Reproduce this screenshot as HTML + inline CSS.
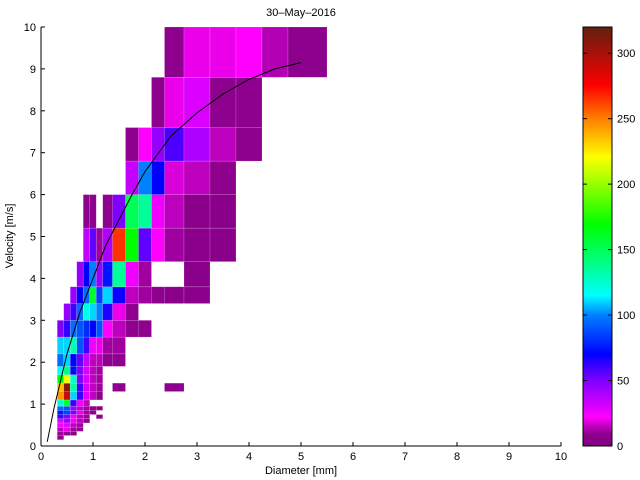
<!DOCTYPE html>
<html><head><meta charset="utf-8"><style>
body{margin:0;background:#fff;}
svg{display:block;font-family:"Liberation Sans",sans-serif;}
</style></head><body>
<svg id="chart" width="640" height="480" viewBox="0 0 640 480">
<defs>
<linearGradient id="cbgrad" x1="0" y1="1" x2="0" y2="0">
<stop offset="0" stop-color="#800080"/>
<stop offset="0.031" stop-color="#910091"/>
<stop offset="0.069" stop-color="#ff00ff"/>
<stop offset="0.156" stop-color="#8000ff"/>
<stop offset="0.219" stop-color="#0000ff"/>
<stop offset="0.3125" stop-color="#0080ff"/>
<stop offset="0.36" stop-color="#00ffff"/>
<stop offset="0.44" stop-color="#00ff80"/>
<stop offset="0.53" stop-color="#00ff00"/>
<stop offset="0.69" stop-color="#ffff00"/>
<stop offset="0.78" stop-color="#ff8000"/>
<stop offset="0.86" stop-color="#ff0000"/>
<stop offset="1" stop-color="#602010"/>
</linearGradient>
</defs>
<g id="cells"></g>
<g id="fit"></g>
<g id="axes"></g>
<text x="301" y="16" text-anchor="middle" font-size="11">30–May–2016</text>
<text x="301" y="474" text-anchor="middle" font-size="11">Diameter [mm]</text>
<text transform="translate(13,236) rotate(-90)" text-anchor="middle" font-size="11">Velocity [m/s]</text>
<g id="cbar">
<rect x="583" y="27" width="29" height="419" fill="url(#cbgrad)" stroke="#000" stroke-width="1"/>
</g>
</svg>
<script>
const diamEdges=[0.3125,0.4375,0.5625,0.6875,0.8125,0.9375,1.0625,1.1875,1.375,1.625,1.875,2.125,2.375,2.75,3.25,3.75,4.25,4.75,5.5];
const velEdges=[0.15,0.25,0.35,0.45,0.55,0.65,0.75,0.85,0.95,1.1,1.3,1.5,1.7,1.9,2.2,2.6,3.0,3.4,3.8,4.4,5.2,6.0,6.8,7.6,8.8,10.0];
const _=null;
// counts[row][col], rows bottom (low velocity) to top
const counts=[
[10,_,_,_,_,_,_,_,_,_,_,_,_,_,_,_,_,_],
[12,10,10,_,_,_,_,_,_,_,_,_,_,_,_,_,_,_],
[15,20,12,10,_,_,_,_,_,_,_,_,_,_,_,_,_,_],
[25,28,15,12,_,_,_,_,_,_,_,_,_,_,_,_,_,_],
[30,45,25,15,10,_,_,_,_,_,_,_,_,_,_,_,_,_],
[60,50,25,15,12,_,10,_,_,_,_,_,_,_,_,_,_,_],
[75,85,50,20,12,10,_,_,_,_,_,_,_,_,_,_,_,_],
[95,90,45,15,12,10,10,_,_,_,_,_,_,_,_,_,_,_],
[125,160,62,25,15,_,_,_,_,_,_,_,_,_,_,_,_,_],
[245,290,110,62,28,15,10,_,_,_,_,_,_,_,_,_,_,_],
[235,310,135,60,30,15,12,_,10,_,_,_,10,_,_,_,_,_],
[170,220,125,50,30,15,12,_,_,_,_,_,_,_,_,_,_,_],
[115,140,72,50,30,15,12,_,_,_,_,_,_,_,_,_,_,_],
[95,110,70,55,35,15,15,10,10,_,_,_,_,_,_,_,_,_],
[110,110,130,90,60,25,20,12,12,_,_,_,_,_,_,_,_,_],
[50,62,95,90,80,70,90,22,15,10,10,_,_,_,_,_,_,_],
[_,45,60,95,120,110,100,65,20,10,_,_,_,_,_,_,_,_],
[_,_,45,70,95,160,85,110,68,15,12,10,8,8,_,_,_,_],
[_,_,_,45,70,100,45,75,135,25,12,_,_,8,_,_,_,_],
[_,_,_,_,35,55,12,40,265,170,55,22,12,8,8,_,_,_],
[_,_,_,_,10,10,_,10,50,150,135,25,15,8,8,_,_,_],
[_,_,_,_,_,_,_,_,_,35,100,70,18,15,10,_,_,_],
[_,_,_,_,_,_,_,_,_,10,22,45,58,40,15,10,_,_],
[_,_,_,_,_,_,_,_,_,_,_,10,20,30,10,10,_,_],
[_,_,_,_,_,_,_,_,_,_,_,_,10,20,20,22,14,10]
];
const fitDiam=[0.12,0.25,0.5,0.75,1,1.25,1.5,1.75,2,2.5,3,3.5,4,4.5,5];
const fitVel=[0.1,0.9,2.2,3.2,4.0,4.8,5.4,6.0,6.55,7.4,7.95,8.4,8.75,9.0,9.15];
const xTicks=[0,1,2,3,4,5,6,7,8,9,10];
const yTicks=[0,1,2,3,4,5,6,7,8,9,10];
const cbTicks=[0,50,100,150,200,250,300];

const NS="http://www.w3.org/2000/svg";
const X0=41,X1=561,Y0=446,Y1=27,CMAX=320;
function sx(d){return X0+(X1-X0)*d/10;}
function sy(v){return Y0-(Y0-Y1)*v/10;}
function cy(c){return Y0-(Y0-Y1)*c/CMAX;}
const stops=[[0,[128,0,128]],[10,[142,0,142]],[22,[255,0,255]],[50,[128,0,255]],[70,[0,0,255]],[100,[0,128,255]],[115,[0,255,255]],[140,[0,255,128]],[170,[0,255,0]],[220,[255,255,0]],[250,[255,128,0]],[275,[255,0,0]],[320,[96,32,16]]];
function cmap(v){
 for(let i=1;i<stops.length;i++){
  if(v<=stops[i][0]){const a=stops[i-1],b=stops[i];const t=(v-a[0])/(b[0]-a[0]);
   const c=a[1].map((q,k)=>Math.round(q+(b[1][k]-q)*t));return `rgb(${c.join(',')})`;}
 }
 return 'rgb(96,32,16)';
}
function mk(tag,attrs,parent){const e=document.createElementNS(NS,tag);for(const k in attrs)e.setAttribute(k,attrs[k]);parent.appendChild(e);return e;}
const gCells=document.getElementById('cells');
counts.forEach((row,r)=>{row.forEach((val,c)=>{
 if(val===null)return;
 const x=sx(diamEdges[c]),x2=sx(diamEdges[c+1]),y=sy(velEdges[r+1]),y2=sy(velEdges[r]);
 const rc=mk('rect',{x:x,y:y,width:x2-x,height:y2-y,fill:cmap(val),stroke:'rgba(255,255,255,0.25)','stroke-width':0.6},gCells);
 
 
});});
const gFit=document.getElementById('fit');
const pts=fitDiam.map((d,i)=>sx(d)+','+sy(fitVel[i])).join(' ');
const pl=mk('polyline',{points:pts,fill:'none',stroke:'#000','stroke-width':1},gFit);


const gAx=document.getElementById('axes');
mk('line',{x1:X0,y1:Y0,x2:X1,y2:Y0,stroke:'#000','stroke-width':1},gAx);
mk('line',{x1:X0,y1:Y0,x2:X0,y2:Y1,stroke:'#000','stroke-width':1},gAx);
xTicks.forEach(t=>{
 mk('line',{x1:sx(t),y1:Y0,x2:sx(t),y2:Y0-4,stroke:'#000'},gAx);
 const tx=mk('text',{x:sx(t),y:Y0+14,'text-anchor':'middle','font-size':11},gAx);tx.textContent=t;
 
 
});
yTicks.forEach(t=>{
 mk('line',{x1:X0,y1:sy(t),x2:X0+4,y2:sy(t),stroke:'#000'},gAx);
 const tx=mk('text',{x:X0-5,y:sy(t)+4,'text-anchor':'end','font-size':11},gAx);tx.textContent=t;
 
 
});
const gCb=document.getElementById('cbar');
cbTicks.forEach(t=>{
 mk('line',{x1:583,y1:cy(t),x2:587,y2:cy(t),stroke:'#000'},gCb);
 mk('line',{x1:612,y1:cy(t),x2:608,y2:cy(t),stroke:'#000'},gCb);
 const tx=mk('text',{x:617,y:cy(t)+4,'font-size':11},gCb);tx.textContent=t;
 
 
});
</script>
</body></html>
